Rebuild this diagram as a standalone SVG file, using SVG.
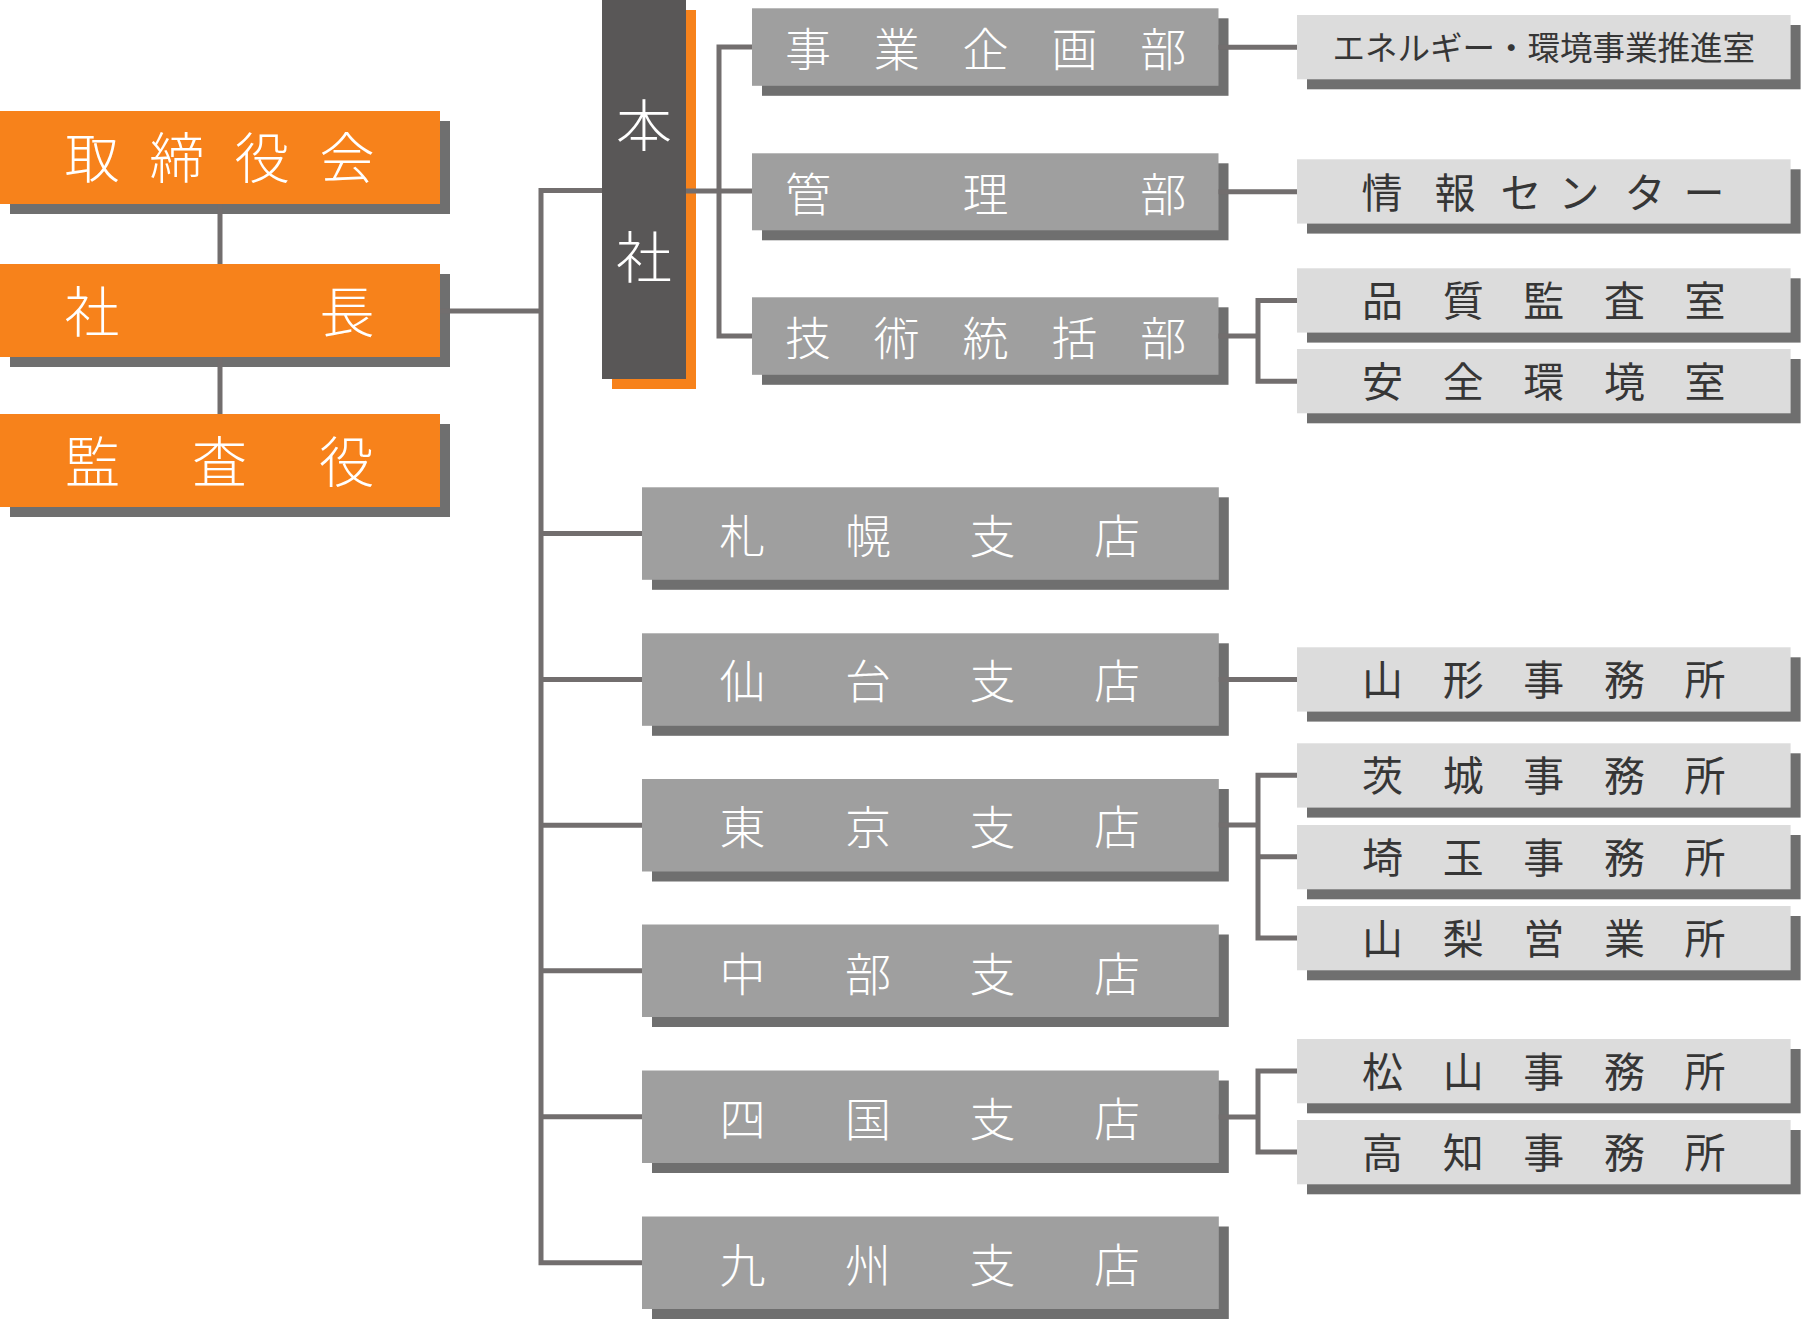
<svg xmlns="http://www.w3.org/2000/svg" width="1801" height="1328" viewBox="0 0 1801 1328">
<style>
text{font-family:"Noto Sans CJK JP","Noto Sans CJK SC",sans-serif;text-anchor:middle;font-weight:300}
.or{fill:#f7821b}
.dk{fill:#595757}
.md{fill:#9f9f9f}
.lt{fill:#dcdcdc}
.sh{fill:#6f6f6f}
.osh{fill:#f7821b}
.tw{fill:#ffffff}
.td{fill:#363636;font-weight:400}
.f55{font-size:55px}
.f56{font-size:56px}
.f46{font-size:46px}
.f41{font-size:41px}
.f32{font-size:32.5px}
.cn{fill:none;stroke:#726e6e;stroke-width:5}
</style>
<rect width="1801" height="1328" fill="#ffffff"/>
<g id="torishimariyakukai">
<rect class="sh" x="10" y="121" width="440" height="93"/>
<rect class="or" x="0" y="111" width="440" height="93"/>
<text class="tw f55" x="92 177 262 347" y="178.4">取締役会</text>
</g>
<g id="shacho">
<rect class="sh" x="10" y="274" width="440" height="93"/>
<rect class="or" x="0" y="264" width="440" height="93"/>
<text class="tw f55" x="92 347" y="331.9">社長</text>
</g>
<g id="kansayaku">
<rect class="sh" x="10" y="424" width="440" height="93"/>
<rect class="or" x="0" y="414" width="440" height="93"/>
<text class="tw f55" x="92.5 219.5 346.5" y="482">監査役</text>
</g>
<g id="honsha">
<rect class="osh" x="612" y="10" width="84" height="379"/>
<rect class="dk" x="602" y="0" width="84" height="379"/>
<text class="tw f56" x="644 644" y="146.3 277.8">本社</text>
</g>
<g id="jigyokikakubu">
<rect class="sh" x="762" y="18.3" width="466.5" height="77.5"/>
<rect class="md" x="752" y="8.3" width="466.5" height="77.5"/>
<text class="tw f46" x="808 896.8 985.6 1074.4 1163.2" y="66.2">事業企画部</text>
</g>
<g id="kanribu">
<rect class="sh" x="762" y="163.3" width="466.5" height="77"/>
<rect class="md" x="752" y="153.3" width="466.5" height="77"/>
<text class="tw f46" x="808 985.6 1163.2" y="210.8">管理部</text>
</g>
<g id="gijutsutokatsubu">
<rect class="sh" x="762" y="307.3" width="466.5" height="77.5"/>
<rect class="md" x="752" y="297.3" width="466.5" height="77.5"/>
<text class="tw f46" x="808 896.8 985.6 1074.4 1163.2" y="354.5">技術統括部</text>
</g>
<g id="energy">
<rect class="sh" x="1307" y="25" width="493.6" height="64.3"/>
<rect class="lt" x="1297" y="15" width="493.6" height="64.3"/>
<text class="td f32" x="1543.8" y="60.2">エネルギー・環境事業推進室</text>
</g>
<g id="johocenter">
<rect class="sh" x="1307" y="169.3" width="493.6" height="64.3"/>
<rect class="lt" x="1297" y="159.3" width="493.6" height="64.3"/>
<text class="td f41" x="1382 1455 1521 1579 1645 1704" y="208.1">情報センター</text>
</g>
<g id="hinshitsu">
<rect class="sh" x="1307" y="278.3" width="493.6" height="64.3"/>
<rect class="lt" x="1297" y="268.3" width="493.6" height="64.3"/>
<text class="td f41" x="1382.5 1463.2 1543.8 1624.4 1705" y="316.1">品質監査室</text>
</g>
<g id="anzen">
<rect class="sh" x="1307" y="359" width="493.6" height="64.3"/>
<rect class="lt" x="1297" y="349" width="493.6" height="64.3"/>
<text class="td f41" x="1382.5 1463.2 1543.8 1624.4 1705" y="397.1">安全環境室</text>
</g>
<g id="sapporo">
<rect class="sh" x="652" y="497.3" width="576.8" height="92.5"/>
<rect class="md" x="642" y="487.3" width="576.8" height="92.5"/>
<text class="tw f46" x="742.5 868 992.5 1117" y="552.5">札幌支店</text>
</g>
<g id="sendai">
<rect class="sh" x="652" y="643.3" width="576.8" height="92.5"/>
<rect class="md" x="642" y="633.3" width="576.8" height="92.5"/>
<text class="tw f46" x="742.5 868 992.5 1117" y="697.5">仙台支店</text>
</g>
<g id="tokyo">
<rect class="sh" x="652" y="789" width="576.8" height="92.5"/>
<rect class="md" x="642" y="779" width="576.8" height="92.5"/>
<text class="tw f46" x="742.5 868 992.5 1117" y="844.2">東京支店</text>
</g>
<g id="chubu">
<rect class="sh" x="652" y="934.5" width="576.8" height="92.5"/>
<rect class="md" x="642" y="924.5" width="576.8" height="92.5"/>
<text class="tw f46" x="742.5 868 992.5 1117" y="990.8">中部支店</text>
</g>
<g id="shikoku">
<rect class="sh" x="652" y="1080.5" width="576.8" height="92.5"/>
<rect class="md" x="642" y="1070.5" width="576.8" height="92.5"/>
<text class="tw f46" x="742.5 868 992.5 1117" y="1136">四国支店</text>
</g>
<g id="kyushu">
<rect class="sh" x="652" y="1226.5" width="576.8" height="92.5"/>
<rect class="md" x="642" y="1216.5" width="576.8" height="92.5"/>
<text class="tw f46" x="742.5 868 992.5 1117" y="1282">九州支店</text>
</g>
<g id="yamagata">
<rect class="sh" x="1307" y="657.3" width="493.6" height="64.3"/>
<rect class="lt" x="1297" y="647.3" width="493.6" height="64.3"/>
<text class="td f41" x="1382.5 1463.2 1543.8 1624.4 1705" y="695.4">山形事務所</text>
</g>
<g id="ibaraki">
<rect class="sh" x="1307" y="753.3" width="493.6" height="64.3"/>
<rect class="lt" x="1297" y="743.3" width="493.6" height="64.3"/>
<text class="td f41" x="1382.5 1463.2 1543.8 1624.4 1705" y="791.2">茨城事務所</text>
</g>
<g id="saitama">
<rect class="sh" x="1307" y="835" width="493.6" height="64.3"/>
<rect class="lt" x="1297" y="825" width="493.6" height="64.3"/>
<text class="td f41" x="1382.5 1463.2 1543.8 1624.4 1705" y="872.6">埼玉事務所</text>
</g>
<g id="yamanashi">
<rect class="sh" x="1307" y="916" width="493.6" height="64.3"/>
<rect class="lt" x="1297" y="906" width="493.6" height="64.3"/>
<text class="td f41" x="1382.5 1463.2 1543.8 1624.4 1705" y="953.9">山梨営業所</text>
</g>
<g id="matsuyama">
<rect class="sh" x="1307" y="1049" width="493.6" height="64.3"/>
<rect class="lt" x="1297" y="1039" width="493.6" height="64.3"/>
<text class="td f41" x="1382.5 1463.2 1543.8 1624.4 1705" y="1086.9">松山事務所</text>
</g>
<g id="kochi">
<rect class="sh" x="1307" y="1130" width="493.6" height="64.3"/>
<rect class="lt" x="1297" y="1120" width="493.6" height="64.3"/>
<text class="td f41" x="1382.5 1463.2 1543.8 1624.4 1705" y="1167.9">高知事務所</text>
</g>
<g id="connectors">
<path class="cn" d="M220 204V264M220 357V414"/>
<path class="cn" d="M440 311H541"/>
<path class="cn" d="M602 190.5H541V1262.8H642M541 533.5H642M541 679.5H642M541 825.2H642M541 970.8H642M541 1116.8H642"/>
<path class="cn" d="M686 191H752M752 47H719V336H752"/>
<path class="cn" d="M1218.5 47.3H1297M1218.5 191.7H1297"/>
<path class="cn" d="M1218.5 336H1258M1297 300.5H1258V381.2H1297"/>
<path class="cn" d="M1218.8 679.5H1297"/>
<path class="cn" d="M1218.8 825H1258M1297 775.3H1258V938H1297M1258 856.7H1297"/>
<path class="cn" d="M1218.8 1117H1258M1297 1071H1258V1152H1297"/>
</g>
</svg>
